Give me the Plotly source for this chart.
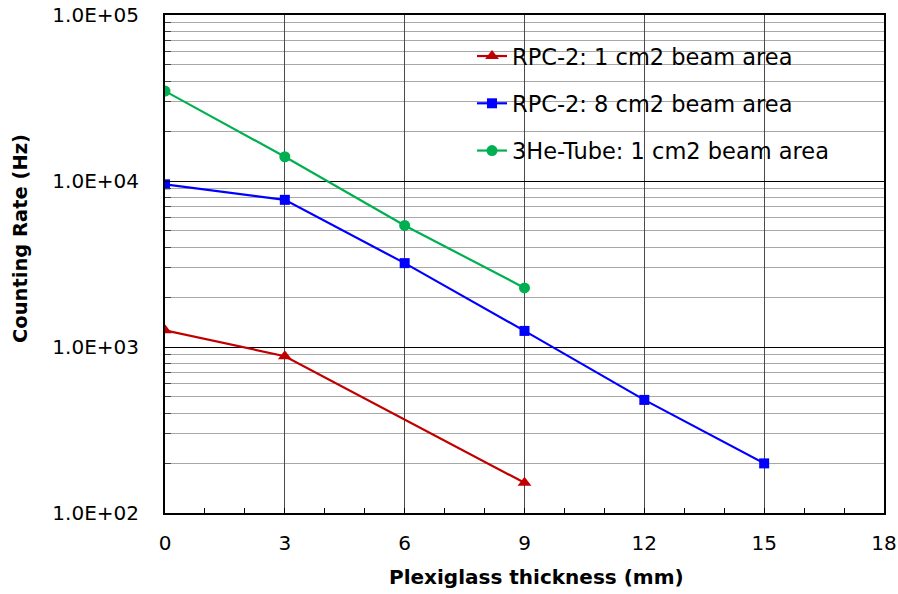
import plotly.graph_objects as go

# ---- data ----
rpc1_thickness = [0, 3, 9]
rpc1_rate = [1260, 880, 152]

rpc8_thickness = [0, 3, 6, 9, 12, 15]
rpc8_rate = [9550, 7700, 3200, 1250, 480, 199]

he3_thickness = [0, 3, 6, 9]
he3_rate = [34800, 14000, 5400, 2270]

series_names = ["RPC-2: 1 cm2 beam area", "RPC-2: 8 cm2 beam area", "3He-Tube: 1 cm2 beam area"]

x_tickvals = [0, 3, 6, 9, 12, 15, 18]
y_tickvals = [100, 1000, 10000, 100000]
y_ticktext = ["1.0E+02", "1.0E+03", "1.0E+04", "1.0E+05"]

FONT = "DejaVu Sans"

fig = go.Figure()
fig.add_trace(go.Scatter(
    x=rpc1_thickness, y=rpc1_rate, name=series_names[0], legendgroup="a",
    mode="lines+markers", line=dict(color="#C00000", width=2.2),
    marker=dict(symbol="triangle-up", size=12, color="#C00000")))
fig.add_trace(go.Scatter(
    x=rpc8_thickness, y=rpc8_rate, name=series_names[1], legendgroup="b",
    mode="lines+markers", line=dict(color="#0000FF", width=2.2),
    marker=dict(symbol="square", size=10, color="#0000FF")))
fig.add_trace(go.Scatter(
    x=he3_thickness, y=he3_rate, name=series_names[2], legendgroup="c",
    mode="lines+markers", line=dict(color="#00B050", width=2.2),
    marker=dict(symbol="circle", size=11, color="#00B050")))

fig.update_layout(
    width=898, height=594,
    margin=dict(l=165, r=14, t=15, b=81, autoexpand=False),
    paper_bgcolor="white", plot_bgcolor="white",
    font=dict(family=FONT, size=20, color="black"),
    showlegend=True,
    legend=dict(x=0.427, xanchor="left", y=0.96, yanchor="top",
                bgcolor="rgba(0,0,0,0)", borderwidth=0,
                font=dict(family=FONT, size=22.5, color="black"),
                tracegroupgap=15, itemwidth=30),
    shapes=[dict(type="rect", xref="paper", yref="paper",
                 x0=0.385, x1=0.9666, y0=0.673, y1=0.964,
                 fillcolor="white", line=dict(width=0), layer="between")],
    annotations=[
        dict(text="<b>Plexiglass thickness (mm)</b>", xref="paper", yref="paper",
             x=0.517, y=-0.1285, xanchor="center", yanchor="middle", showarrow=False,
             font=dict(family=FONT, size=20, color="black")),
        dict(text="<b>Counting Rate (Hz)</b>", xref="paper", yref="paper",
             x=-0.2017, y=0.552, xanchor="center", yanchor="middle", showarrow=False,
             textangle=-90, font=dict(family=FONT, size=19.5, color="black")),
    ],
)

fig.update_xaxes(
    range=[0, 18], tickvals=x_tickvals, ticks="inside", ticklen=5, tickcolor="black",
    showgrid=True, gridcolor="#4a4a4a", gridwidth=1.2,
    showline=True, linecolor="black", linewidth=2, mirror=True,
    zeroline=False, ticklabelstandoff=11, automargin=False,
    tickfont=dict(family=FONT, size=20, color="black"),
    minor=dict(dtick=1, ticks="inside", ticklen=5, tickcolor="black", showgrid=False),
)
fig.update_yaxes(
    type="log", range=[2, 5], tickvals=y_tickvals, ticktext=y_ticktext,
    ticks="inside", ticklen=6, tickcolor="black",
    showgrid=True, gridcolor="black", gridwidth=1.3,
    showline=True, linecolor="black", linewidth=2, mirror=True,
    zeroline=False, ticklabelstandoff=20, automargin=False,
    tickfont=dict(family=FONT, size=20, color="black"),
    minor=dict(dtick="D1", ticks="inside", ticklen=6, tickcolor="#404040",
               showgrid=True, gridcolor="#a8a8a8", gridwidth=1.3),
)

fig.write_html("out.html")
